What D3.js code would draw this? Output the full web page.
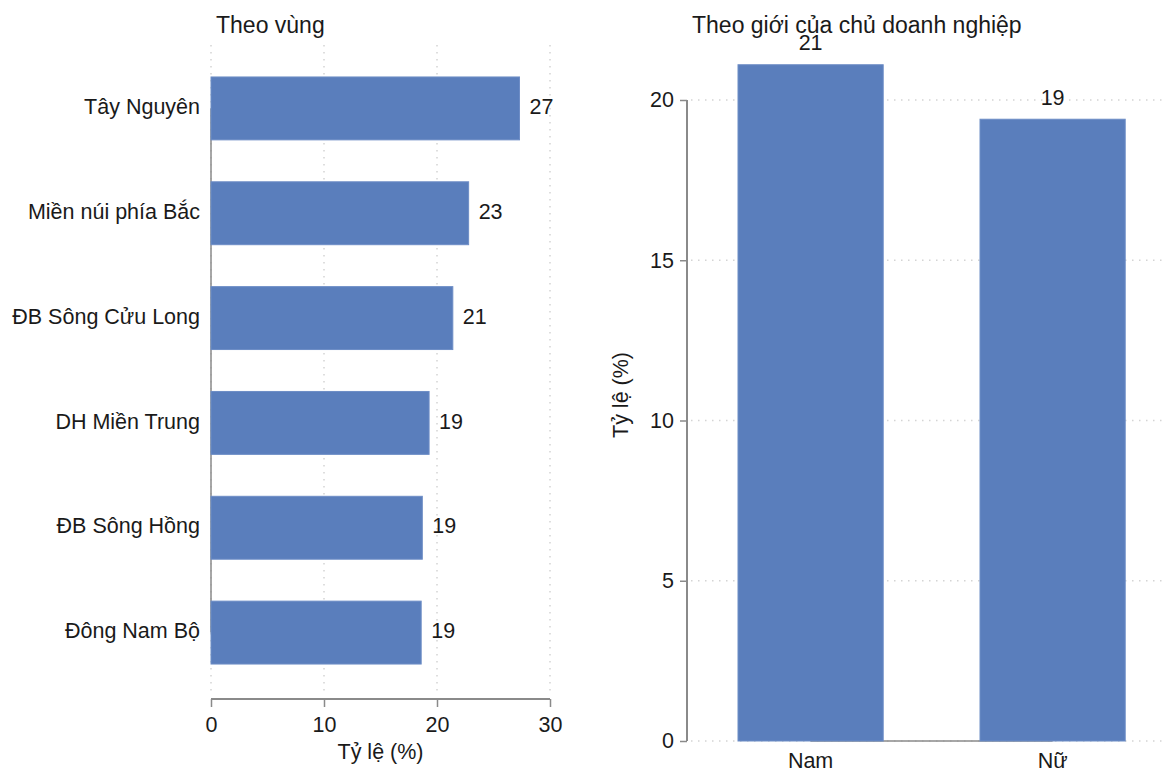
<!DOCTYPE html>
<html>
<head>
<meta charset="utf-8">
<script src="https://cdn.jsdelivr.net/npm/d3@7"></script>
<style>
  html, body { margin: 0; padding: 0; background: #ffffff; }
  svg { display: block; }
  text { font-family: "Liberation Sans", Arial, sans-serif; fill: #1a1a1a; }
</style>
</head>
<body>
<svg id="chart" width="1164" height="772"></svg>
<script>
// Share of firms, by region (%)
const regions = ["Tây Nguyên", "Miền núi phía Bắc", "ĐB Sông Cửu Long", "DH Miền Trung", "ĐB Sông Hồng", "Đông Nam Bộ"];
const regionValues = [27.3, 22.8, 21.4, 19.3, 18.7, 18.6];
const regionTicks = [0, 10, 20, 30];

// Share of firms, by sex of the owner (%)
const genders = ["Nam", "Nữ"];
const genderValues = [21.1, 19.4];
const genderTicks = [0, 5, 10, 15, 20];

const titles = ["Theo vùng", "Theo giới của chủ doanh nghiệp"];
const axisTitle = "Tỷ lệ (%)";

const barColor = "#5a7ebc";
const gridColor = "#d4d4d4";
const axisColor = "#8a8a8a";
const fontSize = 21.5;
const titleSize = 23;
const fmt = d3.format(".0f");

const svg = d3.select("#chart");

// ---------- Left panel: horizontal bars by region ----------
const L = svg.append("g");
const x = d3.scaleLinear().domain([0, 30]).range([211, 550]);
const yb = d3.scaleBand().domain(regions).range([56, 685]).paddingInner(0.4).paddingOuter(0.2);
const leftRows = regions.map((r, i) => ({ name: r, value: regionValues[i] }));

L.append("text").attr("x", 216).attr("y", 27).attr("dominant-baseline", "middle")
  .style("font-size", titleSize + "px").text(titles[0]);

// dotted vertical gridlines
L.selectAll("line.grid").data(regionTicks).join("line").attr("class", "grid")
  .attr("x1", d => x(d)).attr("x2", d => x(d)).attr("y1", 45).attr("y2", 692)
  .attr("stroke", gridColor).attr("stroke-width", 1.5).attr("stroke-dasharray", "1.5,5.5");

// category axis line spanning the first to last category
L.append("line")
  .attr("x1", x(0)).attr("x2", x(0))
  .attr("y1", yb(regions[0]) + yb.bandwidth() / 2)
  .attr("y2", yb(regions[regions.length - 1]) + yb.bandwidth() / 2)
  .attr("stroke", axisColor).attr("stroke-width", 1.5);

L.selectAll("rect.bar").data(leftRows).join("rect").attr("class", "bar")
  .attr("x", x(0)).attr("y", d => yb(d.name))
  .attr("width", d => x(d.value) - x(0)).attr("height", yb.bandwidth())
  .attr("fill", barColor).attr("stroke", "#6d8dc6").attr("stroke-width", 1);

L.selectAll("text.val").data(leftRows).join("text").attr("class", "val")
  .attr("x", d => x(d.value) + 10).attr("y", d => yb(d.name) + yb.bandwidth() / 2)
  .attr("dominant-baseline", "middle").style("font-size", fontSize + "px")
  .text(d => fmt(d.value));

L.selectAll("text.cat").data(leftRows).join("text").attr("class", "cat")
  .attr("x", 200).attr("y", d => yb(d.name) + yb.bandwidth() / 2)
  .attr("text-anchor", "end").attr("dominant-baseline", "middle")
  .style("font-size", fontSize + "px").text(d => d.name);

// value axis at the bottom
const xAxis = L.append("g").attr("transform", "translate(0,699)")
  .call(d3.axisBottom(x).tickValues(regionTicks).tickSize(8).tickPadding(10).tickFormat(d3.format("d")));
xAxis.select(".domain").attr("d", `M${x(0)},0H${x(30)}`).attr("stroke", axisColor).attr("stroke-width", 2);
xAxis.selectAll(".tick line").attr("stroke", axisColor).attr("stroke-width", 1.5);
xAxis.selectAll(".tick text").style("font-size", fontSize + "px")
  .style("font-family", "'Liberation Sans', Arial, sans-serif").attr("fill", "#1a1a1a");

L.append("text").attr("x", (x(0) + x(30)) / 2).attr("y", 753)
  .attr("text-anchor", "middle").attr("dominant-baseline", "middle")
  .style("font-size", fontSize + "px").text(axisTitle);

// ---------- Right panel: vertical bars by owner's sex ----------
const R = svg.append("g");
const y = d3.scaleLinear().domain([0, 20]).range([741, 100]);
const xb = d3.scaleBand().domain(genders).range([689.6, 1173.6]).paddingInner(0.4).paddingOuter(0.2);
const rightRows = genders.map((g, i) => ({ name: g, value: genderValues[i] }));

// dotted horizontal gridlines
R.selectAll("line.grid").data(genderTicks).join("line").attr("class", "grid")
  .attr("x1", 691).attr("x2", 1162).attr("y1", d => y(d)).attr("y2", d => y(d))
  .attr("stroke", gridColor).attr("stroke-width", 1.5).attr("stroke-dasharray", "1.5,5.5");

// category axis line between the category centres
R.append("line")
  .attr("x1", xb(genders[0]) + xb.bandwidth() / 2)
  .attr("x2", xb(genders[genders.length - 1]) + xb.bandwidth() / 2)
  .attr("y1", y(0)).attr("y2", y(0))
  .attr("stroke", axisColor).attr("stroke-width", 1.5);

R.selectAll("rect.bar").data(rightRows).join("rect").attr("class", "bar")
  .attr("x", d => xb(d.name)).attr("y", d => y(d.value))
  .attr("width", xb.bandwidth()).attr("height", d => y(0) - y(d.value))
  .attr("fill", barColor).attr("stroke", "#6d8dc6").attr("stroke-width", 1);

R.selectAll("text.val").data(rightRows).join("text").attr("class", "val")
  .attr("x", d => xb(d.name) + xb.bandwidth() / 2).attr("y", d => y(d.value) - 20)
  .attr("text-anchor", "middle").attr("dominant-baseline", "middle")
  .style("font-size", fontSize + "px").text(d => fmt(d.value));

R.selectAll("text.cat").data(rightRows).join("text").attr("class", "cat")
  .attr("x", d => xb(d.name) + xb.bandwidth() / 2).attr("y", 762)
  .attr("text-anchor", "middle").attr("dominant-baseline", "middle")
  .style("font-size", fontSize + "px").text(d => d.name);

const yAxis = R.append("g").attr("transform", "translate(687,0)")
  .call(d3.axisLeft(y).tickValues(genderTicks).tickSize(7).tickPadding(6).tickFormat(d3.format("d")));
yAxis.select(".domain").attr("d", `M0,${y(0)}V${y(20)}`).attr("stroke", axisColor).attr("stroke-width", 2);
yAxis.selectAll(".tick line").attr("stroke", axisColor).attr("stroke-width", 1.5);
yAxis.selectAll(".tick text").style("font-size", fontSize + "px")
  .style("font-family", "'Liberation Sans', Arial, sans-serif").attr("fill", "#1a1a1a");

R.append("text").attr("transform", "translate(622,395) rotate(-90)")
  .attr("text-anchor", "middle").attr("dominant-baseline", "middle")
  .style("font-size", fontSize + "px").text(axisTitle);

R.append("text").attr("x", 692).attr("y", 27).attr("dominant-baseline", "middle")
  .style("font-size", titleSize + "px").text(titles[1]);
</script>
</body>
</html>
